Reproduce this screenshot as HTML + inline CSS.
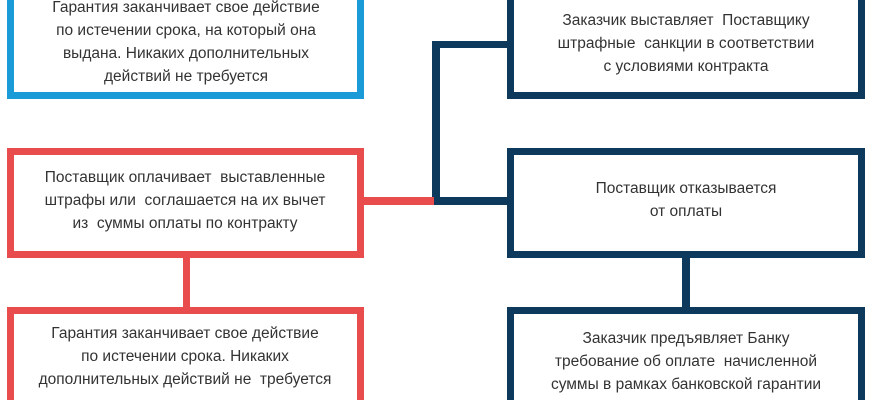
<!DOCTYPE html>
<html><head><meta charset="utf-8"><style>
html,body{margin:0;width:870px;height:400px;overflow:hidden;}
body{background:#fff;position:relative;font-family:"Liberation Sans","DejaVu Sans",sans-serif;}
.b{position:absolute;box-sizing:border-box;border:7px solid;background:#fff;}
.l{position:absolute;background:#0d3a5c;}
.t{position:absolute;white-space:pre;transform:translate(-50%,-50%);font-size:15.5px;color:#333;}
</style></head><body>
<div class="l" style="left:432px;top:41px;width:8px;height:164px"></div>
<div class="l" style="left:432px;top:41px;width:80px;height:7px"></div>
<div class="l" style="left:432px;top:197px;width:80px;height:8px"></div>
<div class="l" style="left:364px;top:197px;width:70px;height:8px;background:#e84c4c"></div>
<div class="l" style="left:183px;top:255px;width:7px;height:55px;background:#e84c4c"></div>
<div class="l" style="left:682px;top:255px;width:8px;height:55px"></div>

<div class="b" style="left:7px;top:-20px;width:357px;height:119px;border-color:#1a9ad6"></div>
<div class="b" style="left:7px;top:148px;width:357px;height:110px;border-color:#e84c4c"></div>
<div class="b" style="left:7px;top:307px;width:357px;height:110px;border-color:#e84c4c"></div>
<div class="b" style="left:507px;top:-20px;width:358px;height:119px;border-color:#0d3a5c"></div>
<div class="b" style="left:507px;top:148px;width:358px;height:110px;border-color:#0d3a5c"></div>
<div class="b" style="left:507px;top:307px;width:358px;height:110px;border-color:#0d3a5c"></div>

<div class="t" style="left:186px;top:8px">Гарантия заканчивает свое действие</div>
<div class="t" style="left:186px;top:31px">по истечении срока, на который она</div>
<div class="t" style="left:186px;top:54px">выдана. Никаких дополнительных</div>
<div class="t" style="left:186px;top:77px">действий не требуется</div>

<div class="t" style="left:185px;top:178px">Поставщик оплачивает  выставленные</div>
<div class="t" style="left:185px;top:201px">штрафы или  соглашается на их вычет</div>
<div class="t" style="left:185px;top:224px">из  суммы оплаты по контракту</div>

<div class="t" style="left:185px;top:334px">Гарантия заканчивает свое действие</div>
<div class="t" style="left:185px;top:357px">по истечении срока. Никаких</div>
<div class="t" style="left:185px;top:380px">дополнительных действий не  требуется</div>

<div class="t" style="left:686px;top:21px">Заказчик выставляет  Поставщику</div>
<div class="t" style="left:686px;top:44px">штрафные  санкции в соответствии</div>
<div class="t" style="left:686px;top:67px">с условиями контракта</div>

<div class="t" style="left:686px;top:189px">Поставщик отказывается</div>
<div class="t" style="left:686px;top:212px">от оплаты</div>

<div class="t" style="left:686px;top:339px">Заказчик предъявляет Банку</div>
<div class="t" style="left:686px;top:362px">требование об оплате  начисленной</div>
<div class="t" style="left:686px;top:385px">суммы в рамках банковской гарантии</div>
</body></html>
